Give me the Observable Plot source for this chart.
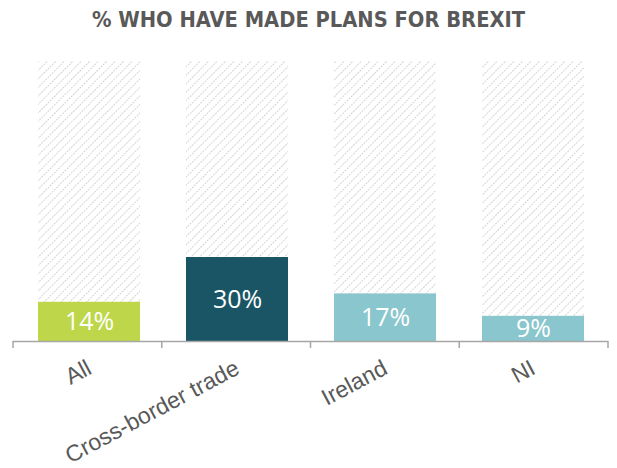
<!DOCTYPE html>
<html><head><meta charset="utf-8">
<script src="https://cdn.jsdelivr.net/npm/d3@7"></script>
<script src="https://cdn.jsdelivr.net/npm/@observablehq/plot@0.6"></script>
<style>
body{margin:0;background:#fff;}
#title{height:40px;line-height:40px;text-align:center;font-family:"DejaVu Sans Condensed","DejaVu Sans";font-weight:bold;font-size:21.7px;color:#595959;}
</style></head><body>
<div id="title">% WHO HAVE MADE PLANS FOR BREXIT</div>
<div id="chart"></div>
<script>
const categories = ["All", "Cross-border trade", "Ireland", "NI"];
const values = [14, 30, 17, 9];
const barColors = ["#BED74A", "#1A5565", "#8AC6CD", "#8AC6CD"];
const fullScale = 100;

const data = categories.map((c, i) => ({category: c, value: values[i], color: barColors[i]}));

const hatchDefs = () => {
  const defs = d3.create("svg:defs");
  const p = defs.append("pattern").attr("id", "hatch").attr("patternUnits", "userSpaceOnUse")
    .attr("width", 6).attr("height", 6).attr("patternTransform", "rotate(45)");
  p.append("line").attr("x1", 0).attr("y1", 0).attr("x2", 0).attr("y2", 6)
    .attr("stroke", "#c9c9c9").attr("stroke-width", 1.6).attr("stroke-dasharray", "2,1");
  return defs.node();
};

const bandTicks = (index, scales, vals, dims) => {
  const g = d3.create("svg:g").attr("stroke", "#a6a6a6").attr("stroke-width", 1.5);
  const n = categories.length;
  const x0 = dims.marginLeft, x1 = dims.width - dims.marginRight;
  const y0 = dims.height - dims.marginBottom;
  for (let i = 0; i <= n; i++) {
    const x = x0 + (x1 - x0) * i / n;
    g.append("line").attr("x1", x).attr("x2", x).attr("y1", y0).attr("y2", y0 + 7);
  }
  return g.node();
};

const chart = Plot.plot({
  width: 617,
  height: 428,
  marginTop: 21,
  marginBottom: 127,
  marginLeft: 13,
  marginRight: 9,
  x: {domain: categories, paddingInner: 0.313, paddingOuter: 0.1565, label: null},
  y: {domain: [0, fullScale], axis: null},
  marks: [
    hatchDefs,
    Plot.barY(data, {x: "category", y: () => fullScale, fill: "url(#hatch)"}),
    Plot.barY(data, {x: "category", y: "value", fill: "color"}),
    Plot.ruleY([0], {stroke: "#a6a6a6", strokeWidth: 1.5}),
    bandTicks,
    Plot.text(data, {x: "category", y: d => d.value / 2, text: d => d.value + "%", fill: "white",
      fontSize: 25, fontFamily: "Open Sans", textAnchor: "middle"}),
    Plot.axisX({tickSize: 0, tickRotate: -28, tickPadding: 25, fontSize: 23,
      fontFamily: "Liberation Sans", fill: "#595959", label: null})
  ]
});
document.getElementById("chart").appendChild(chart);
</script>
</body></html>
